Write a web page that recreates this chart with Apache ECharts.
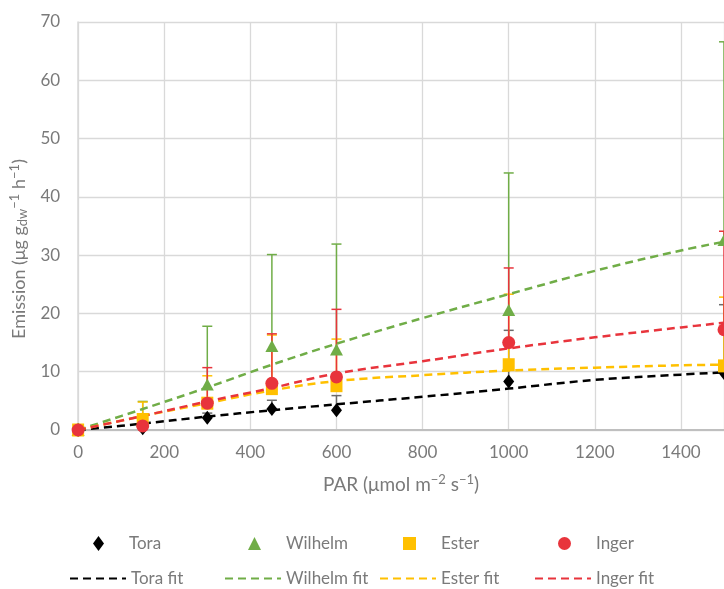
<!DOCTYPE html>
<html lang="en">
<head>
    <meta charset="UTF-8">
    <title>Emission vs PAR</title>
    <script src="https://cdn.jsdelivr.net/npm/echarts@6/dist/echarts.min.js"></script>
    <style>
        html, body { margin: 0; padding: 0; background: #fff; }
        #main { width: 724px; height: 589px; }
    </style>
</head>
<body>
<div id="main"></div>
<script>
    // measured points (PAR) and values
    var parX = [0, 150, 300, 450, 600, 1000, 1500];
    var toraY = [0, 0.3, 2.1, 3.6, 3.4, 8.3, 9.8];
    var wilhelmY = [0, 1.6, 7.8, 14.4, 13.8, 20.6, 32.6];
    var esterY = [0, 1.8, 4.6, 7.1, 7.6, 11.2, 11.0];
    var ingerY = [0, 0.7, 4.6, 8.0, 9.1, 15.0, 17.2];

    // upper error bars
    var toraErr = [0, 0.5, 0.8, 1.5, 2.5, 8.8, 11.7];
    var wilhelmErr = [0, 3.3, 10.0, 15.7, 18.1, 23.5, 34.0];
    var esterErr = [0, 3.0, 4.7, 9.2, 8.0, 12.1, 11.8];
    var ingerErr = [0, 0.8, 6.1, 8.5, 11.6, 12.8, 16.9];

    // fitted curves
    var fitX = [0, 150, 300, 450, 600, 800, 1000, 1200, 1400, 1500];
    var toraFit = [0, 1.1, 2.3, 3.4, 4.4, 5.7, 7.1, 8.6, 9.5, 9.9];
    var wilhelmFit = [0, 3.6, 7.3, 11.2, 14.8, 19.2, 23.3, 27.3, 30.8, 32.3];
    var esterFit = [0, 2.4, 4.6, 6.8, 8.4, 9.4, 10.2, 10.7, 11.1, 11.2];
    var ingerFit = [0, 2.4, 4.9, 7.2, 9.7, 11.8, 14.0, 15.9, 17.6, 18.4];

    var xTicks = [0, 200, 400, 600, 800, 1000, 1200, 1400];

    var names = ['Tora', 'Wilhelm', 'Ester', 'Inger'];
    var colors = ['#000000', '#70AD47', '#FFC000', '#E8343C'];
    var errColors = ['#6b6b6b', '#70AD47', '#FFC000', '#E8343C'];
    var symbols = ['diamond', 'triangle', 'rect', 'circle'];
    var symSizes = [[11, 14], [13, 12], [12, 13], 13];
    var ys = [toraY, wilhelmY, esterY, ingerY];
    var errs = [toraErr, wilhelmErr, esterErr, ingerErr];
    var fits = [toraFit, wilhelmFit, esterFit, ingerFit];

    var FONT = 'Lato';
    var GREY = '#7a7a7a';

    function pairs(xs, vs) {
        return xs.map(function (x, i) { return [x, vs[i]]; });
    }

    function errBar(params, api) {
        var x = api.value(0), y = api.value(1), e = api.value(2);
        if (!e) return null;
        var p0 = api.coord([x, y]);
        var p1 = api.coord([x, y + e]);
        var st = { stroke: api.visual('color'), lineWidth: 1.5 };
        return {
            type: 'group',
            children: [
                { type: 'line', shape: { x1: p0[0], y1: p0[1], x2: p1[0], y2: p1[1] }, style: st },
                { type: 'line', shape: { x1: p1[0] - 5, y1: p1[1], x2: p1[0] + 5, y2: p1[1] }, style: st }
            ]
        };
    }

    var series = [];
    names.forEach(function (n, k) {
        series.push({
            name: n + ' err',
            type: 'custom',
            renderItem: errBar,
            itemStyle: { color: errColors[k] },
            clip: false,
            z: 3,
            data: parX.map(function (x, i) { return [x, ys[k][i], errs[k][i]]; })
        });
    });
    names.forEach(function (n, k) {
        series.push({
            name: n + ' fit',
            type: 'line',
            smooth: 0.4,
            symbol: 'none',
            z: 4,
            lineStyle: { color: colors[k], width: 2.5, type: [8, 5] },
            itemStyle: { color: colors[k] },
            data: pairs(fitX, fits[k])
        });
    });
    names.forEach(function (n, k) {
        series.push({
            name: n,
            type: 'scatter',
            symbol: symbols[k],
            symbolSize: symSizes[k],
            clip: false,
            z: 5,
            itemStyle: { color: colors[k], opacity: 1 },
            data: pairs(parX, ys[k])
        });
    });

    // one legend per entry so the two rows line up like the original
    var legends = [];
    var textLeft = [131, 286, 441, 596];
    names.forEach(function (n, k) {
        legends.push({
            data: [n],
            left: textLeft[k] - 38,
            top: 535,
            padding: 0,
            itemWidth: k === 0 ? 11 : 13,
            itemHeight: k === 0 ? 15 : 13,
            selectedMode: false,
            textStyle: { fontFamily: FONT, fontSize: 17, color: GREY, padding: [0, 0, 0, 20] }
        });
        legends.push({
            data: [n + ' fit'],
            left: textLeft[k] - 62,
            top: 570,
            padding: 0,
            itemWidth: 56,
            itemHeight: 14,
            selectedMode: false,
            itemStyle: { color: 'rgba(0,0,0,0)', borderWidth: 0 },
            textStyle: { fontFamily: FONT, fontSize: 17, color: GREY }
        });
    });

    var option = {
        animation: false,
        backgroundColor: '#ffffff',
        legend: legends,
        grid: { left: 77, top: 22, width: 648, height: 408, containLabel: false },
        xAxis: {
            type: 'value',
            min: 0,
            max: 1500,
            interval: 200,
            name: 'PAR (μmol m{sup|−2} s{sup|−1})',
            nameLocation: 'middle',
            nameGap: 43,
            nameTextStyle: {
                fontFamily: FONT, fontSize: 19, color: GREY,
                rich: { sup: { fontFamily: FONT, fontSize: 13, color: GREY, padding: [0, 0, 10, 0] } }
            },
            axisLine: { lineStyle: { color: '#bfbfbf', width: 2 } },
            axisTick: { show: false },
            axisLabel: {
                fontFamily: FONT, fontSize: 17, color: GREY, margin: 14,
                showMaxLabel: false,
                formatter: function (v) { return xTicks.indexOf(v) >= 0 ? String(v) : ''; }
            },
            splitLine: { lineStyle: { color: '#d9d9d9', width: 1.3 } }
        },
        yAxis: {
            type: 'value',
            min: 0,
            max: 70,
            interval: 10,
            name: 'Emission (μg g{sub|dw}{sup|−1} h{sup|−1})',
            nameLocation: 'middle',
            nameGap: 47,
            nameTextStyle: {
                fontFamily: FONT, fontSize: 18, color: GREY,
                padding: [0, 46, 0, 0],
                rich: {
                    sup: { fontFamily: FONT, fontSize: 13, color: GREY, padding: [0, 0, 10, 0] },
                    sub: { fontFamily: FONT, fontSize: 13, color: GREY, padding: [7, 0, 0, 0] }
                }
            },
            axisLine: { show: true, lineStyle: { color: '#d9d9d9', width: 1.5 } },
            axisTick: { show: false },
            axisLabel: { fontFamily: FONT, fontSize: 17, color: GREY, margin: 18 },
            splitLine: { lineStyle: { color: '#d9d9d9', width: 1.3 } }
        },
        series: series
    };

    var myChart = echarts.init(document.getElementById('main'));
    myChart.setOption(option);
</script>
</body>
</html>
